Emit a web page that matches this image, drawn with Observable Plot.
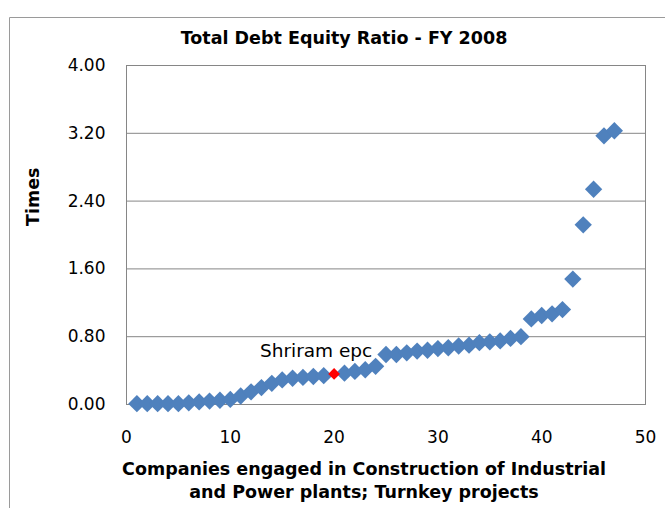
<!DOCTYPE html>
<html>
<head>
<meta charset="utf-8">
<script src="https://cdn.jsdelivr.net/npm/d3@7"></script>
<script src="https://cdn.jsdelivr.net/npm/@observablehq/plot@0.6"></script>
<style>
  html, body { margin: 0; padding: 0; background: #fff; }
  #chart { width: 665px; height: 508px; }
</style>
</head>
<body>
<div id="chart"></div>
<script>
const companies = [1,2,3,4,5,6,7,8,9,10,11,12,13,14,15,16,17,18,19,20,21,22,23,24,25,26,27,28,29,30,31,32,33,34,35,36,37,38,39,40,41,42,43,44,45,46,47];
const debtEquity = [0.01,0.01,0.01,0.01,0.01,0.02,0.03,0.04,0.05,0.06,
  0.10,0.15,0.20,0.25,0.29,0.31,0.32,0.33,0.34,0.36,
  0.37,0.39,0.41,0.45,0.59,0.59,0.61,0.63,0.64,0.66,
  0.67,0.69,0.70,0.73,0.74,0.75,0.78,0.80,1.01,1.05,
  1.07,1.12,1.48,2.12,2.54,3.17,3.23];
const highlightCompany = 20;
const highlightLabel = "Shriram epc";
const xTicks = [0,10,20,30,40,50];
const yTicks = [0,0.8,1.6,2.4,3.2,4.0];
const title = "Total Debt Equity Ratio - FY 2008";
const xTitle = "Companies engaged in Construction of Industrial\nand Power plants; Turnkey projects";
const yTitle = "Times";

const rows = companies.map((c, i) => ({company: c, ratio: debtEquity[i]}));
const others = rows.filter(d => d.company !== highlightCompany);
const hi = rows.filter(d => d.company === highlightCompany);

const chart = Plot.plot({
  width: 665,
  height: 508,
  marginLeft: 126,
  marginRight: 20,
  marginTop: 65,
  marginBottom: 104,
  style: {fontFamily: "'DejaVu Sans', Verdana, sans-serif", fontSize: "17px", color: "#000", background: "#fff"},
  x: {domain: [0, 50], ticks: xTicks, tickSize: 0, tickPadding: 26, label: null},
  y: {domain: [0, 4], ticks: yTicks, tickSize: 0, tickPadding: 21, tickFormat: d => d.toFixed(2), label: null},
  marks: [
    Plot.gridY(yTicks, {stroke: "#868686", strokeOpacity: 1, strokeWidth: 1}),
    Plot.frame({stroke: "#868686", strokeWidth: 1}),
    Plot.dot(others, {x: "company", y: "ratio", symbol: "diamond2", r: 7.8, fill: "#4F81BD", stroke: "none"}),
    Plot.dot(hi, {x: "company", y: "ratio", symbol: "diamond2", r: 5.3, fill: "#FF0000", stroke: "none"}),
    Plot.text(hi, {x: "company", y: "ratio", text: () => highlightLabel, dx: -18, dy: -23, fontSize: 18.5, fill: "#000", textAnchor: "middle", lineAnchor: "middle"}),
    Plot.text([title], {frameAnchor: "top", dx: -42, dy: -27, lineAnchor: "middle", fontWeight: "bold", fontSize: 17.5, fill: "#000"}),
    Plot.text([xTitle], {frameAnchor: "bottom", dx: -22, dy: 75, lineAnchor: "middle", lineHeight: 1.3, fontWeight: "bold", fontSize: 17.5, fill: "#000"}),
    Plot.text([yTitle], {frameAnchor: "left", dx: -93, dy: -9, rotate: -90, lineAnchor: "middle", fontWeight: "bold", fontSize: 17.5, fill: "#000"})
  ]
});

d3.select(chart).append("path")
  .attr("d", "M9.5,508 V17.5 H665")
  .attr("fill", "none")
  .attr("stroke", "#9a9a9a")
  .attr("stroke-width", 1);

document.getElementById("chart").appendChild(chart);
</script>
</body>
</html>
